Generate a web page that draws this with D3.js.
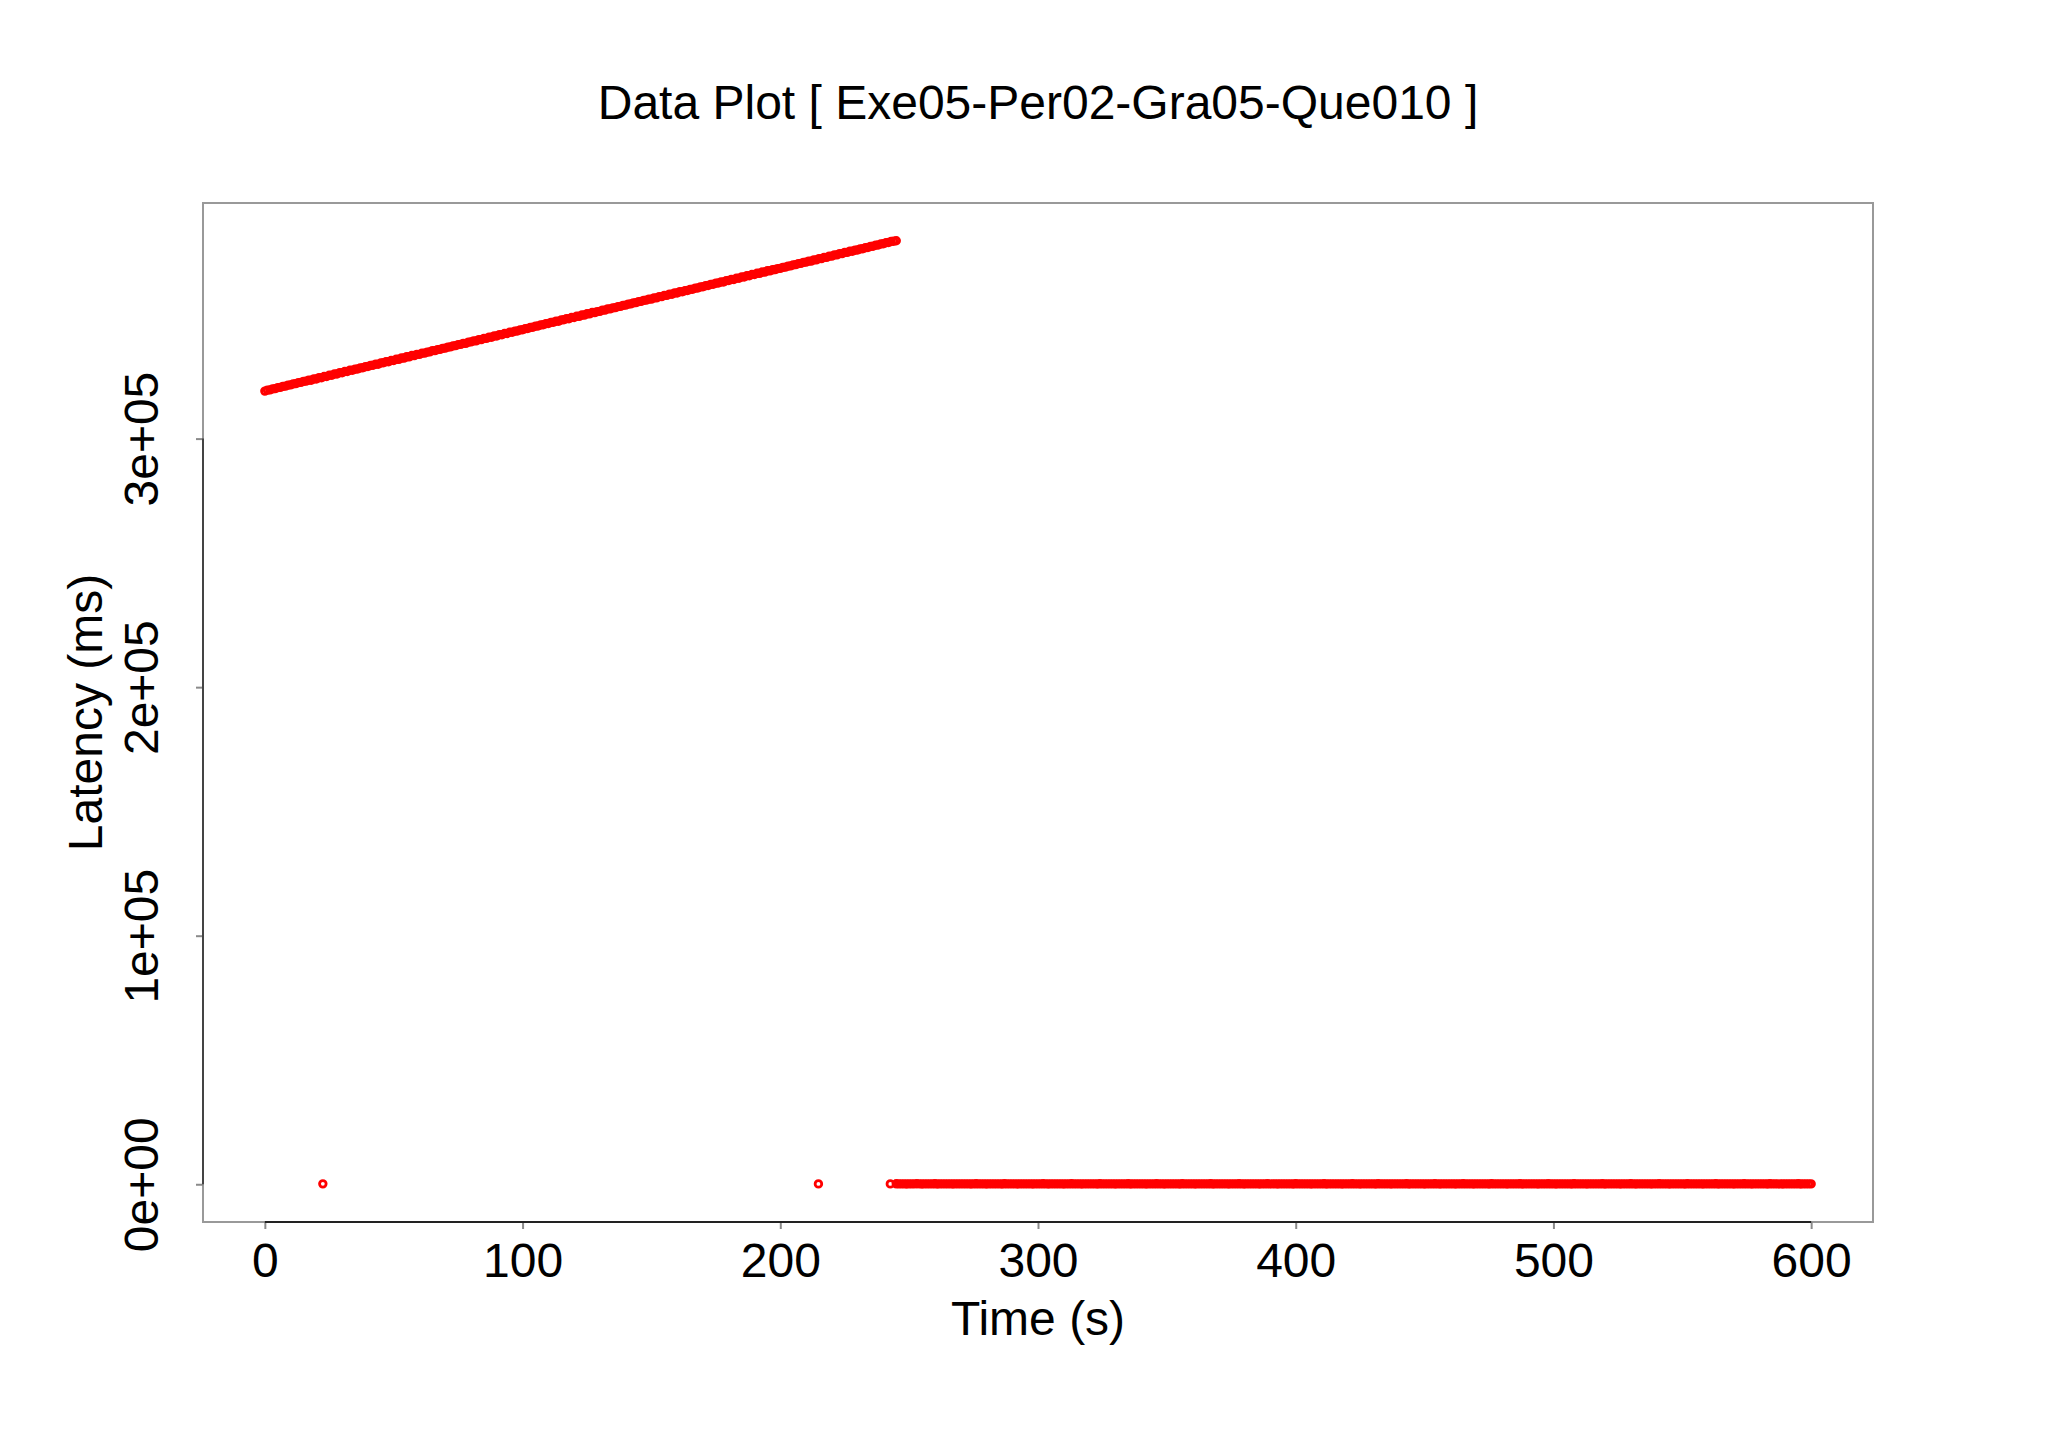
<!DOCTYPE html>
<html>
<head>
<meta charset="utf-8">
<script src="https://cdn.jsdelivr.net/npm/d3@7"></script>
<style>
  html, body { margin: 0; padding: 0; background: #ffffff; }
  svg { display: block; }
  text { font-family: "Liberation Sans", Arial, Helvetica, sans-serif; fill: #000; }
</style>
</head>
<body>
<svg id="chart" width="2048" height="1440"></svg>
<script>
// ---------------- DATA ----------------
const titleText = "Data Plot [ Exe05-Per02-Gra05-Que010 ]";
const xLabel = "Time (s)";
const yLabel = "Latency (ms)";
const xTicks = [0, 100, 200, 300, 400, 500, 600];
const yTicks = [0, 100000, 200000, 300000];
const yTickLabels = ["0e+00", "1e+05", "2e+05", "3e+05"];

// Upper (queued) series: sample times (s)
const upperTime = [
  0,1,2,3,4,5,6,7,8,9,10,11,12,13,14,15,16,17,18,19,20,21,22,23,24,25,26,27,28,29,
  30,31,32,33,34,35,36,37,38,39,40,41,42,43,44,45,46,47,48,49,50,51,52,53,54,55,56,57,58,59,
  60,61,62,63,64,65,66,67,68,69,70,71,72,73,74,75,76,77,78,79,80,81,82,83,84,85,86,87,88,89,
  90,91,92,93,94,95,96,97,98,99,100,101,102,103,104,105,106,107,108,109,110,111,112,113,114,115,116,117,118,119,
  120,121,122,123,124,125,126,127,128,129,130,131,132,133,134,135,136,137,138,139,140,141,142,143,144,145,146,147,148,149,
  150,151,152,153,154,155,156,157,158,159,160,161,162,163,164,165,166,167,168,169,170,171,172,173,174,175,176,177,178,179,
  180,181,182,183,184,185,186,187,188,189,190,191,192,193,194,195,196,197,198,199,200,201,202,203,204,205,206,207,208,209,
  210,211,212,213,214,215,216,217,218,219,220,221,222,223,224,225,226,227,228,229,230,231,232,233,234,235,236,237,238,239,
  240,241,242,243,244,245
];
// Upper series: latency (ms)
const upperLatency = [
  319100,319500,319600,320000,320100,320500,320600,321000,321100,321500,
  321600,322000,322100,322500,322600,323000,323100,323500,323500,324000,
  324000,324500,324500,325000,325000,325500,325500,326000,326000,326500,
  326500,327000,327000,327500,327500,327900,328000,328400,328500,328900,
  329000,329400,329500,329900,329900,330400,330500,330900,330900,331400,
  331400,331900,331900,332400,332400,332900,332900,333400,333400,333900,
  333900,334400,334400,334800,334900,335400,335400,335800,335900,336300,
  336400,336800,336900,337300,337400,337800,337900,338300,338300,338800,
  338900,339300,339300,339800,339800,340300,340300,340800,340800,341300,
  341300,341800,341800,342300,342300,342800,342800,343200,343300,343700,
  343800,344200,344300,344700,344800,345200,345300,345700,345800,346200,
  346300,346700,346800,347200,347200,347700,347800,348200,348200,348700,
  348700,349200,349200,349700,349700,350200,350200,350700,350700,351100,
  351200,351700,351700,352200,352200,352600,352700,353100,353200,353600,
  353700,354100,354200,354600,354700,355100,355200,355600,355700,356100,
  356100,356600,356600,357100,357100,357600,357600,358100,358100,358600,
  358600,359100,359100,359500,359600,360000,360100,360500,360600,361000,
  361100,361500,361600,362000,362100,362500,362600,363000,363000,363500,
  363600,364000,364000,364500,364500,365000,365000,365500,365500,366000,
  366000,366500,366500,367000,367000,367500,367500,367900,368000,368400,
  368500,368900,369000,369400,369500,369900,370000,370400,370500,370900,
  371000,371400,371400,371900,371900,372400,372400,372900,372900,373400,
  373400,373900,373900,374400,374400,374900,374900,375400,375400,375800,
  375900,376300,376400,376800,376900,377300,377400,377800,377900,378300,
  378400,378800,378900,379300,379400,379600
];

// Isolated low-latency points
const isolatedTime = [22.5, 214.8, 242.7];
const isolatedLatency = [160, 140, 150];

// Lower (steady) series: sample times (s)
const lowerTime = [
  245,246,247,248,249,250,251,252,253,254,255,256,257,258,259,260,261,262,263,264,265,266,267,268,269,
  270,271,272,273,274,275,276,277,278,279,280,281,282,283,284,285,286,287,288,289,290,291,292,293,294,
  295,296,297,298,299,300,301,302,303,304,305,306,307,308,309,310,311,312,313,314,315,316,317,318,319,
  320,321,322,323,324,325,326,327,328,329,330,331,332,333,334,335,336,337,338,339,340,341,342,343,344,
  345,346,347,348,349,350,351,352,353,354,355,356,357,358,359,360,361,362,363,364,365,366,367,368,369,
  370,371,372,373,374,375,376,377,378,379,380,381,382,383,384,385,386,387,388,389,390,391,392,393,394,
  395,396,397,398,399,400,401,402,403,404,405,406,407,408,409,410,411,412,413,414,415,416,417,418,419,
  420,421,422,423,424,425,426,427,428,429,430,431,432,433,434,435,436,437,438,439,440,441,442,443,444,
  445,446,447,448,449,450,451,452,453,454,455,456,457,458,459,460,461,462,463,464,465,466,467,468,469,
  470,471,472,473,474,475,476,477,478,479,480,481,482,483,484,485,486,487,488,489,490,491,492,493,494,
  495,496,497,498,499,500,501,502,503,504,505,506,507,508,509,510,511,512,513,514,515,516,517,518,519,
  520,521,522,523,524,525,526,527,528,529,530,531,532,533,534,535,536,537,538,539,540,541,542,543,544,
  545,546,547,548,549,550,551,552,553,554,555,556,557,558,559,560,561,562,563,564,565,566,567,568,569,
  570,571,572,573,574,575,576,577,578,579,580,581,582,583,584,585,586,587,588,589,590,591,592,593,594,
  595,596,597,598,599,600
];
// Lower series: latency (ms) — all close to zero at this scale
const lowerLatency = [
  180,150,140,170,130,160,150,140,190,150,130,170,160,140,150,180,130,150,160,140,170,150,130,160,150,
  140,170,150,160,130,150,180,140,150,160,130,170,150,140,160,150,130,180,150,140,160,170,130,150,160,
  140,150,170,130,160,150,140,180,150,130,160,150,170,140,150,130,160,150,180,140,150,160,130,170,150,
  140,160,150,130,180,150,140,160,150,170,130,150,160,140,150,180,130,160,150,140,170,150,130,160,150,
  140,180,150,160,130,150,170,140,150,160,130,180,150,140,160,150,130,170,150,140,160,150,180,130,150,
  160,140,170,150,130,160,150,140,180,150,130,160,150,170,140,150,130,160,150,180,140,150,160,130,170,
  150,140,160,150,130,180,150,140,160,150,170,130,150,160,140,150,180,130,160,150,140,170,150,130,160,
  150,140,180,150,160,130,150,170,140,150,160,130,180,150,140,160,150,130,170,150,140,160,150,180,130,
  150,160,140,170,150,130,160,150,140,180,150,130,160,150,170,140,150,130,160,150,180,140,150,160,130,
  170,150,140,160,150,130,180,150,140,160,150,170,130,150,160,140,150,180,130,160,150,140,170,150,130,
  160,150,140,180,150,160,130,150,170,140,150,160,130,180,150,140,160,150,130,170,150,140,160,150,180,
  130,150,160,140,170,150,130,160,150,140,180,150,130,160,150,170,140,150,130,160,150,180,140,150,160,
  130,170,150,140,160,150,130,180,150,140,160,150,170,130,150,160,140,150,180,130,160,150,140,170,150,
  130,160,150,140,180,150,160,130,150,170,140,150,160,130,180,150,140,160,150,130,170,150,140,160,150,
  180,130,150,160,140,150
];

// ---------------- CHART ----------------
const plot = { left: 203, right: 1873, top: 203, bottom: 1222 };
const svg = d3.select("#chart");

const allPoints = [];
upperTime.forEach((t, i) => allPoints.push({ t, v: upperLatency[i] }));
isolatedTime.forEach((t, i) => allPoints.push({ t, v: isolatedLatency[i] }));
lowerTime.forEach((t, i) => allPoints.push({ t, v: lowerLatency[i] }));

// R-style 4% axis extension
function pad(ext) { const d = (ext[1] - ext[0]) * 0.04; return [ext[0] - d, ext[1] + d]; }
const xExt = d3.extent(allPoints, d => d.t);
const yExt = d3.extent(allPoints, d => d.v);
const x = d3.scaleLinear().domain(pad(xExt)).range([plot.left, plot.right]);
const y = d3.scaleLinear().domain(pad([0, yExt[1]])).range([plot.bottom, plot.top]);

// plot box
svg.append("rect")
  .attr("x", plot.left).attr("y", plot.top)
  .attr("width", plot.right - plot.left).attr("height", plot.bottom - plot.top)
  .attr("fill", "none").attr("stroke", "#999999").attr("stroke-width", 2);

// points
svg.append("g").selectAll("circle")
  .data(allPoints)
  .join("circle")
  .attr("cx", d => x(d.t))
  .attr("cy", d => y(d.v))
  .attr("r", 3.3)
  .attr("fill", "none")
  .attr("stroke", "#ff0000")
  .attr("stroke-width", 2.8);

// x axis
const xAxis = d3.axisBottom(x).tickValues(xTicks).tickSize(7).tickFormat(d3.format("d"));
const gx = svg.append("g").attr("transform", `translate(0,${plot.bottom})`).call(xAxis);
gx.select(".domain").remove();
gx.selectAll(".tick line").attr("stroke", "#8a8a8a").attr("stroke-width", 2);
gx.selectAll(".tick text").attr("dy", null).attr("y", 55)
  .attr("font-size", 48).attr("font-family", "Liberation Sans, Arial, sans-serif").attr("fill", "#000");
svg.append("line")
  .attr("x1", x(xTicks[0])).attr("x2", x(xTicks[xTicks.length - 1]))
  .attr("y1", plot.bottom).attr("y2", plot.bottom)
  .attr("stroke", "#222").attr("stroke-width", 2);

// y axis
const yAxis = d3.axisLeft(y).tickValues(yTicks).tickSize(7).tickFormat((d, i) => yTickLabels[i]);
const gy = svg.append("g").attr("transform", `translate(${plot.left},0)`).call(yAxis);
gy.select(".domain").remove();
gy.selectAll(".tick line").attr("stroke", "#8a8a8a").attr("stroke-width", 2);
gy.selectAll(".tick text")
  .attr("x", null).attr("dy", null)
  .attr("transform", "translate(-45,0) rotate(-90)")
  .attr("text-anchor", "middle")
  .attr("font-size", 48).attr("font-family", "Liberation Sans, Arial, sans-serif").attr("fill", "#000");
svg.append("line")
  .attr("x1", plot.left).attr("x2", plot.left)
  .attr("y1", y(yTicks[0])).attr("y2", y(yTicks[yTicks.length - 1]))
  .attr("stroke", "#444").attr("stroke-width", 2);

// title
const cx = (plot.left + plot.right) / 2;
svg.append("text").attr("x", cx).attr("y", 119)
  .attr("text-anchor", "middle").attr("font-size", 48).text(titleText);

// axis labels
svg.append("text").attr("x", cx).attr("y", 1335)
  .attr("text-anchor", "middle").attr("font-size", 48).text(xLabel);
svg.append("text")
  .attr("transform", `translate(102,${(plot.top + plot.bottom) / 2}) rotate(-90)`)
  .attr("text-anchor", "middle").attr("font-size", 48).text(yLabel);
</script>
</body>
</html>
